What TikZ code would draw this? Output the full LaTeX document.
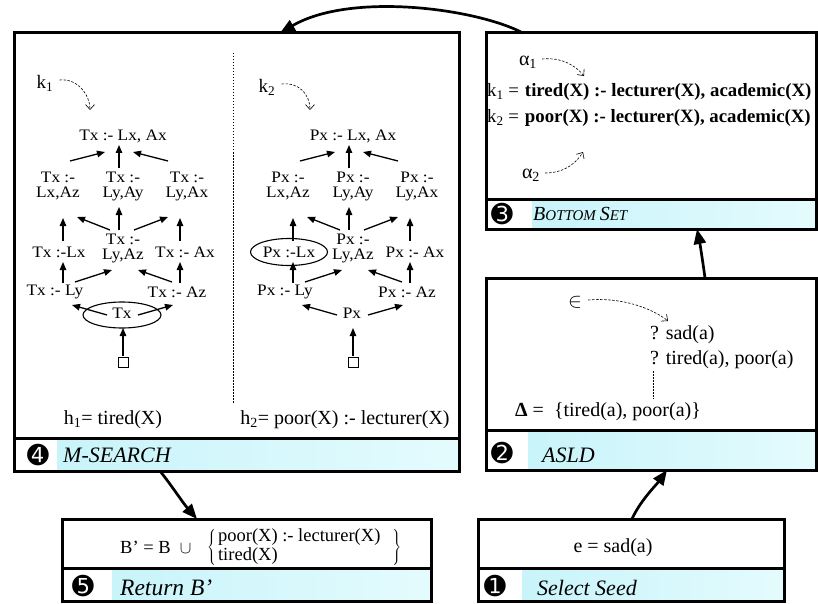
\documentclass[tikz,border=0pt]{standalone}
\usepackage{fontspec}
\setmainfont{Liberation Serif}
\newfontfamily\dejavu{DejaVu Sans}
\newfontfamily\lattfont[FakeStretch=1.08]{Liberation Serif}
\usetikzlibrary{arrows.meta,calc,shapes.geometric}
\definecolor{bandL}{RGB}{200,244,250}
\definecolor{bandR}{RGB}{228,251,253}
\tikzset{
 boxst/.style={draw, line width=3pt, anchor=north west, inner sep=0pt, outer sep=0pt},
 latt/.style={font=\lattfont\fontsize{16}{15}\selectfont, align=center, inner sep=0pt},
 larr/.style={line width=1.3pt, -{Triangle[length=8pt,width=6.5pt]}},
 darr/.style={line width=0.6pt, dash pattern=on 2.5pt off 1.5pt, -{Straight Barb[length=5pt,width=9pt]}},
 conn/.style={line width=2.7pt, -{Triangle[length=15pt,width=12pt]}},
 txt/.style={font=\fontsize{20}{24}\selectfont, inner sep=0pt},
 lab/.style={font=\fontsize{22}{22}\selectfont\itshape, anchor=west, inner sep=0pt},
 num/.style={font=\dejavu\fontsize{26}{26}\selectfont, inner sep=0pt},
 dotln/.style={line width=0.7pt, dash pattern=on 1.5pt off 1.5pt},
 ell/.style={draw, ellipse, line width=1.1pt, inner sep=0pt},
}
\newcommand\mylattice[3]{%
\node[latt] (#1top) at (#3+123,136) {#2x :- Lx, Ax};
\node[latt] (#1aL) at (#3+58,186) {#2x :-\\Lx,Az};
\node[latt] (#1aM) at (#3+123,186) {#2x :-\\Ly,Ay};
\node[latt] (#1aR) at (#3+187,186) {#2x :-\\Ly,Ax};
\node[latt] (#1bL) at (#3+59,252) {#2x :-Lx};
\node[latt] (#1bM) at (#3+123,248) {#2x :-\\Ly,Az};
\node[latt] (#1bR) at (#3+185,252) {#2x :- Ax};
\node[latt] (#1cL) at (#3+55,292) {#2x :- Ly};
\node[latt] (#1cR) at (#3+177,292) {#2x :- Az};
\node[latt] (#1d) at (#3+122,313) {#2x};
\node[draw, line width=0.9pt, minimum size=10pt, inner sep=0pt] (#1sq) at (#3+123,362) {};
\draw[larr] ($(#1aL)+(12,-25)$) -- ($(#1top)+(-18,16)$);
\draw[larr] ($(#1aM)+(-4,-18)$) -- ($(#1top)+(-4,9)$);
\draw[larr] ($(#1aR)+(-19,-25)$) -- ($(#1top)+(10,16)$);
\draw[larr] ($(#1bL)+(4,-11)$) -- ($(#1aL)+(5,32)$);
\draw[larr] ($(#1bM)+(-13,-18)$) -- ($(#1aL)+(19,31)$);
\draw[larr] ($(#1bM)+(-4,-18)$) -- ($(#1aM)+(-4,21)$);
\draw[larr] ($(#1bM)+(11,-18)$) -- ($(#1aR)+(-19,31)$);
\draw[larr] ($(#1bR)+(-5,-11)$) -- ($(#1aR)+(-7,32)$);
\draw[larr] ($(#1cL)+(8,-9)$) -- ($(#1bL)+(4,10)$);
\draw[larr] ($(#1cL)+(20,-10)$) -- ($(#1bM)+(-11,22)$);
\draw[larr] ($(#1cR)+(-5,-10)$) -- ($(#1bM)+(15,22)$);
\draw[larr] ($(#1cR)+(3,-9)$) -- ($(#1bR)+(-5,10)$);
\draw[larr] ($(#1d)+(-15,2)$) -- ($(#1cL)+(17,13)$);
\draw[larr] ($(#1d)+(16,2)$) -- ($(#1cR)+(-4,13)$);
\draw[larr] ($(#1sq)+(0,-6)$) -- ($(#1d)+(1,15)$);
}
\begin{document}
\begin{tikzpicture}[x=1pt, y=-1pt, line join=miter]
\useasboundingbox (0,0) rectangle (818,604);
\fill[white] (0,0) rectangle (818,604);
% bands
\shade[left color=bandL, right color=bandR] (57,438) rectangle (459,471);
\shade[left color=bandL, right color=bandR] (532,199) rectangle (816.5,229);
\shade[left color=bandL, right color=bandR] (528,430) rectangle (816.5,470);
\shade[left color=bandL, right color=bandR] (112,568) rectangle (431,601);
\shade[left color=bandL, right color=bandR] (522,568) rectangle (784,601);
% boxes
\node[boxst, minimum width=445pt, minimum height=438pt] (ms) at (14,33) {};
\node[boxst, minimum width=330.5pt, minimum height=196pt] (bs) at (486,33) {};
\node[boxst, minimum width=330.5pt, minimum height=192pt] (asld) at (486,278) {};
\node[boxst, minimum width=369pt, minimum height=82pt] (ret) at (62,519) {};
\node[boxst, minimum width=306pt, minimum height=82pt] (seed) at (478,519) {};
\draw[line width=3pt] (14,438) -- (459,438);
\draw[line width=3pt] (486,199) -- (816.5,199);
\draw[line width=3pt] (486,430) -- (816.5,430);
\draw[line width=3pt] (62,568) -- (431,568);
\draw[line width=3pt] (478,568) -- (784,568);
% band labels
\node[num] (n4) at (38,455) {➍};
\node[lab] (l4) at (63,455) {M-SEARCH};
\node[num] (n3) at (502,214) {➌};
\node[lab] (l3) at (533,214) {\fontsize{20}{20}\selectfont B\fontsize{15}{15}\selectfont OTTOM \fontsize{20}{20}\selectfont S\fontsize{15}{15}\selectfont ET};
\node[num] (n2) at (502,453) {➋};
\node[lab] (l2) at (542,455) {ASLD};
\node[num] (n1) at (495,586) {➊};
\node[lab] (l1) at (537,588) {Select Seed};
\node[num] (n5) at (83,586) {➎};
\node[lab, font=\fontsize{23.5}{23}\selectfont\itshape] (l5) at (120,588) {Return B’};
% M-search panel
\draw[dotln] (233,53) -- (233,403);
\mylattice{t}{T}{0}
\mylattice{p}{P}{230}
\node[ell, minimum width=78pt, minimum height=26pt] (tell) at (122,315) {};
\node[ell, minimum width=77pt, minimum height=27pt] (pell) at (289,252) {};
\node[font=\fontsize{19}{19}\selectfont, inner sep=0pt] (k1) at (45,83) {k\textsubscript{1}};
\node[font=\fontsize{19}{19}\selectfont, inner sep=0pt] (k2) at (267,87) {k\textsubscript{2}};
\coordinate (k1t) at (90,110);
\coordinate (k2t) at (310,110);
\draw[darr] ($(k1.east)+(6,-3)$) .. controls +(18,-2) and +(0,-15) .. (k1t);
\draw[darr] ($(k2.east)+(6,-3)$) .. controls +(18,-2) and +(0,-15) .. (k2t);
\node[txt] (h1) at (113,420) {h\textsubscript{1}= tired(X)};
\node[txt] (h2) at (345,420) {h\textsubscript{2}= poor(X) :- lecturer(X)};
% bottom set
\node[font=\fontsize{20}{20}\selectfont, inner sep=0pt] (a1) at (528,62) {α\textsubscript{1}};
\node[font=\fontsize{20}{20}\selectfont, inner sep=0pt] (a2) at (531,175) {α\textsubscript{2}};
\node[font=\fontsize{18.8}{20}\selectfont, inner sep=0pt, anchor=west] (kk1) at (487,92) {k\textsubscript{1} =\hspace{6pt}\textbf{tired(X) :- lecturer(X), academic(X)}};
\node[font=\fontsize{18.8}{20}\selectfont, inner sep=0pt, anchor=west] (kk2) at (487,118) {k\textsubscript{2} =\hspace{6pt}\textbf{poor(X) :- lecturer(X), academic(X)}};
\coordinate (a1t) at (584,76);
\coordinate (a2t) at (583,152);
\draw[darr] ($(a1.east)+(5,-3)$) .. controls +(20,-2) and +(-8,-10) .. (a1t);
\draw[darr] ($(a2.east)+(5,-2)$) .. controls +(20,0) and +(-6,10) .. (a2t);
% ASLD
\node[font=\fontsize{20}{20}\selectfont, inner sep=0pt] (eps) at (575,302) {$\in$};
\coordinate (epst) at (668,321);
\draw[darr] ($(eps.east)+(6,-2)$) .. controls +(35,-3) and +(-15,-12) .. (epst);
\node[txt, anchor=west] (q1) at (650,335) {? sad(a)};
\node[txt, anchor=west] (q2) at (650,360) {? tired(a), poor(a)};
\node[txt, anchor=west] (delta) at (515,412) {\textbf{Δ} = \ \{tired(a), poor(a)\}};
\draw[dotln] ($(q2.south west)+(3,2)$) -- ($(q2.south west)+(3,30)$);
% seed
\node[txt] (e) at (613,548) {e = sad(a)};
% return
\node[font=\fontsize{18.5}{19}\selectfont, inner sep=0pt, anchor=west] (bp) at (120,547) {B’ = B \ $\cup$};
\node[font=\fontsize{18.5}{19}\selectfont, inner sep=0pt, anchor=west] (bset) at (207,547) {$\left\{\hspace{2pt}\begin{tabular}{@{}l@{}}poor(X) :- lecturer(X)\\ tired(X)\end{tabular}\hspace{12pt}\right\}$};
% connectors
\draw[conn] ([xshift=37pt]bs.north west) .. controls (475,8) and (350,-8) .. ([xshift=266pt]ms.north west);
\draw[conn] ([xshift=219pt]asld.north west) .. controls +(-2,-15) and +(3,15) .. ([xshift=211pt]bs.south west);
\draw[conn] ([xshift=154pt]seed.north west) .. controls +(8,-18) and +(-10,14) .. ([xshift=181pt]asld.south west);
\draw[conn] ([xshift=146pt]ms.south west) .. controls +(12,15) and +(-14,-16) .. ([xshift=135pt]ret.north west);
\end{tikzpicture}
\end{document}
